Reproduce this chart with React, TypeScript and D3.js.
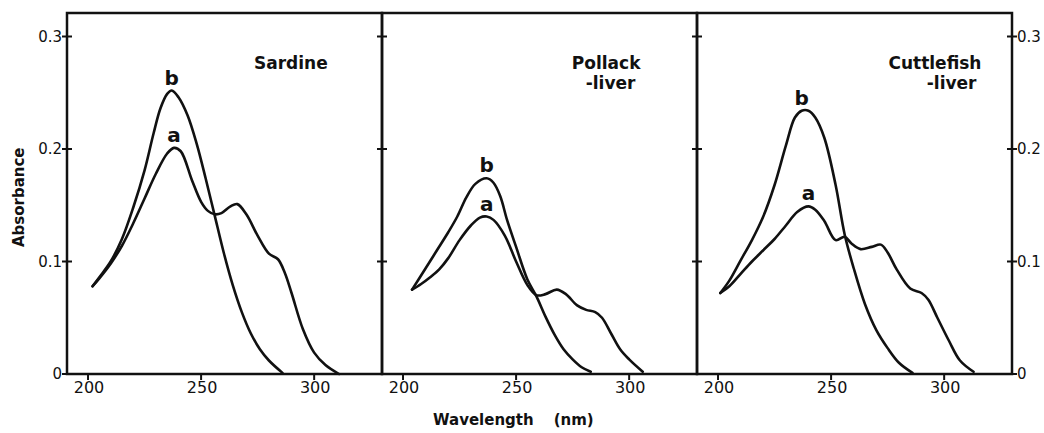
import React, { useEffect, useRef } from 'react';
import * as d3 from 'd3';

// absorbance ticks + wavelength ticks
const yTicks = [0, 0.1, 0.2, 0.3];
const yTickLabels = ['0', '0.1', '0.2', '0.3'];
const xTicks = [200, 250, 300];

const sampleNames = [['Sardine'], ['Pollack', '-liver'], ['Cuttlefish', '-liver']];

// [wavelength nm, absorbance]
const sardineA = [
  [202, 0.078], [205, 0.085], [210, 0.098], [215, 0.114], [220, 0.134], [225, 0.156],
  [230, 0.178], [235, 0.196], [238, 0.201], [241, 0.198], [246, 0.172], [250, 0.153],
  [253, 0.145], [256, 0.142], [259, 0.143], [263, 0.149], [266, 0.151], [270, 0.142],
  [275, 0.123], [280, 0.107], [284, 0.102], [287, 0.090], [290, 0.072], [295, 0.040],
  [300, 0.019], [305, 0.008], [311, 0.0]
];
const sardineB = [
  [202, 0.078], [205, 0.086], [210, 0.100], [215, 0.120], [220, 0.148], [225, 0.181],
  [229, 0.214], [232, 0.236], [235, 0.249], [237, 0.252], [240, 0.246], [244, 0.230],
  [248, 0.205], [252, 0.174], [256, 0.141], [260, 0.108], [264, 0.079], [268, 0.055],
  [272, 0.036], [276, 0.022], [280, 0.012], [286, 0.001]
];
const pollackA = [
  [204, 0.075], [208, 0.080], [212, 0.086], [216, 0.093], [220, 0.103], [225, 0.119],
  [230, 0.132], [234, 0.139], [237, 0.140], [240, 0.137], [245, 0.123], [250, 0.100],
  [255, 0.079], [259, 0.070], [263, 0.071], [268, 0.075], [272, 0.071], [277, 0.061],
  [281, 0.057], [285, 0.055], [288, 0.050], [292, 0.036], [296, 0.022], [300, 0.013],
  [306, 0.002]
];
const pollackB = [
  [204, 0.075], [210, 0.094], [215, 0.110], [220, 0.126], [224, 0.140], [228, 0.157],
  [232, 0.169], [237, 0.174], [240, 0.170], [243, 0.158], [246, 0.137], [250, 0.113],
  [255, 0.084], [259, 0.069], [263, 0.051], [267, 0.035], [271, 0.022], [275, 0.013],
  [279, 0.006], [283, 0.002]
];
const cuttlefishA = [
  [201, 0.072], [205, 0.078], [210, 0.089], [215, 0.100], [220, 0.110], [225, 0.120],
  [230, 0.132], [235, 0.144], [240, 0.149], [243, 0.146], [247, 0.136], [252, 0.119],
  [256, 0.122], [259, 0.116], [263, 0.111], [268, 0.113], [272, 0.115], [275, 0.108],
  [279, 0.093], [285, 0.076], [290, 0.072], [293, 0.066], [297, 0.050], [302, 0.030],
  [307, 0.012], [313, 0.002]
];
const cuttlefishB = [
  [201, 0.072], [205, 0.083], [210, 0.101], [215, 0.119], [220, 0.140], [225, 0.168],
  [230, 0.203], [234, 0.228], [237, 0.234], [240, 0.234], [243, 0.228], [247, 0.210],
  [252, 0.168], [256, 0.124], [260, 0.094], [265, 0.062], [270, 0.039], [275, 0.023],
  [280, 0.010], [286, 0.001]
];

const panels = [
  { names: sampleNames[0], a: sardineA, b: sardineB, nameAt: 306 },
  { names: sampleNames[1], a: pollackA, b: pollackB, nameAt: 305 },
  { names: sampleNames[2], a: cuttlefishA, b: cuttlefishB, nameAt: 316.5 },
];

const W = 1044;
const H = 433;
const font = "'DejaVu Sans', sans-serif";
const ink = '#111';

export default function App() {
  const ref = useRef<SVGSVGElement | null>(null);

  useEffect(() => {
    const svg = d3.select(ref.current);
    svg.selectAll('*').remove();

    const left = 67, top = 13, bottom = 374, pw = 315;
    const y = d3.scaleLinear().domain([0, 0.3]).range([bottom, 36.5]);

    const g = svg.append('g').attr('fill', 'none').attr('stroke', ink);

    panels.forEach((p, i) => {
      const x0 = left + i * pw;
      const x = d3.scaleLinear().domain([190.7, 330]).range([x0, x0 + pw]);

      // frame
      g.append('rect')
        .attr('x', x0).attr('y', top)
        .attr('width', pw).attr('height', bottom - top)
        .attr('stroke-width', 2.5);

      // x ticks
      svg.append('g').selectAll('line')
        .data(xTicks)
        .join('line')
          .attr('x1', d => x(d)).attr('x2', d => x(d))
          .attr('y1', bottom).attr('y2', bottom + 6)
          .attr('stroke', ink).attr('stroke-width', 2);
      svg.append('g').selectAll('text')
        .data(xTicks)
        .join('text')
          .attr('x', d => x(d) + 1).attr('y', 393)
          .attr('text-anchor', 'middle')
          .attr('font-family', font).attr('font-size', 16)
          .attr('fill', ink)
          .text(d => d);

      const ln = d3.line<number[]>()
        .x(d => x(d[0]))
        .y(d => y(d[1]))
        .curve(d3.curveCatmullRom.alpha(0.5));

      [p.a, p.b].forEach(series => {
        g.append('path')
          .attr('d', ln(series))
          .attr('stroke-width', 2.6)
          .attr('stroke-linejoin', 'round')
          .attr('stroke-linecap', 'round');
      });

      // a / b labels above the peaks
      const peakA = p.a.reduce((m, d) => (d[1] > m[1] ? d : m));
      const peakB = p.b.reduce((m, d) => (d[1] > m[1] ? d : m));
      [[peakA, 'a'], [peakB, 'b']].forEach(([pk, lab]: any) => {
        svg.append('text')
          .attr('x', x(pk[0]))
          .attr('y', y(pk[1]) - 6)
          .attr('text-anchor', 'middle')
          .attr('font-family', font).attr('font-weight', 'bold').attr('font-size', 20)
          .attr('fill', ink)
          .text(lab);
      });

      // sample name
      p.names.forEach((nm, k) => {
        svg.append('text')
          .attr('x', x(p.nameAt) - (k > 0 ? 5 : 0))
          .attr('y', 69 + k * 20)
          .attr('text-anchor', 'end')
          .attr('font-family', font).attr('font-weight', 'bold').attr('font-size', 17)
          .attr('fill', ink)
          .text(nm);
      });
    });

    // y ticks on every panel border, crossing the line
    const borders = [0, 1, 2, 3].map(i => left + i * pw);
    borders.forEach(bx => {
      svg.append('g').selectAll('line')
        .data(yTicks)
        .join('line')
          .attr('x1', bx - 5).attr('x2', bx + 5)
          .attr('y1', d => y(d)).attr('y2', d => y(d))
          .attr('stroke', ink).attr('stroke-width', 2);
    });

    svg.append('g').selectAll('text')
      .data(yTicks)
      .join('text')
        .attr('x', left - 5).attr('y', d => y(d) + 5)
        .attr('text-anchor', 'end')
        .attr('font-family', font).attr('font-size', 15)
        .attr('fill', ink)
        .text((d, i) => yTickLabels[i]);

    svg.append('g').selectAll('text')
      .data(yTicks)
      .join('text')
        .attr('x', borders[3] + 5).attr('y', d => y(d) + 5)
        .attr('text-anchor', 'start')
        .attr('font-family', font).attr('font-size', 15)
        .attr('fill', ink)
        .text((d, i) => yTickLabels[i]);

    svg.append('text')
      .attr('transform', `translate(24,${(y(0) + y(0.3)) / 2 - 8}) rotate(-90)`)
      .attr('text-anchor', 'middle')
      .attr('font-family', font).attr('font-weight', 'bold').attr('font-size', 15)
      .attr('fill', ink)
      .text('Absorbance');

    const xl = svg.append('text')
      .attr('x', 433).attr('y', 425)
      .attr('font-family', font).attr('font-weight', 'bold').attr('font-size', 15)
      .attr('fill', ink);
    xl.append('tspan').text('Wavelength');
    xl.append('tspan').attr('dx', 20).text('(nm)');
  }, []);

  return (
    <svg
      ref={ref}
      width={W}
      height={H}
      style={{ position: 'absolute', left: 0, top: 0, background: '#fff' }}
    />
  );
}
